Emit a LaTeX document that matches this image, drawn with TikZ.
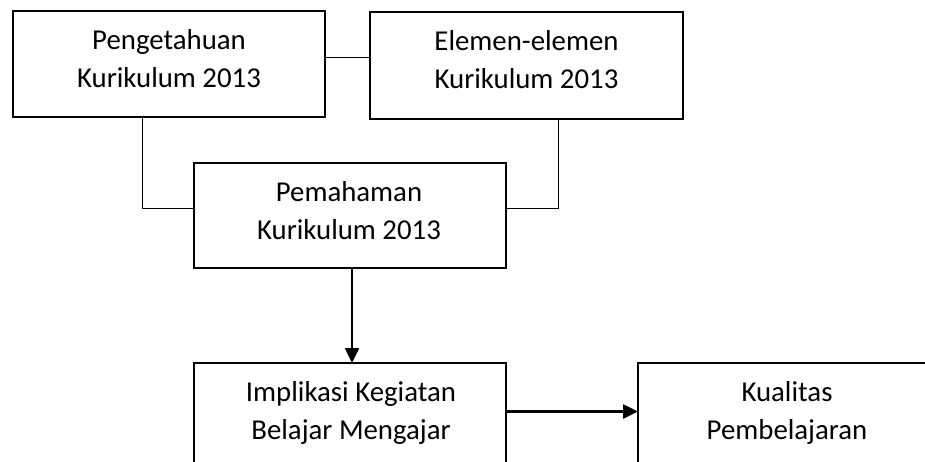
\documentclass[tikz,border=0pt]{standalone}
\usepackage{fontspec}
\setmainfont{Carlito}
\usetikzlibrary{arrows.meta}
\tikzset{
  box/.style={draw=black, line width=2pt, rectangle, inner sep=0pt, outer sep=0pt},
  label/.style={inner sep=0pt, outer sep=0pt, anchor=base, font=\fontsize{28.8}{38}\selectfont},
  thinline/.style={draw=black, line width=1pt},
  arr/.style={draw=black, line width=2.5pt, -{Triangle[length=15pt,width=14pt]}}
}
\newcommand{\twolines}[2]{\parbox[t]{300pt}{\centering #1\\#2}}
\begin{document}
\begin{tikzpicture}[x=1pt,y=-1pt]
\useasboundingbox (0,0) rectangle (925,461);
\clip (0,0) rectangle (925,461);
\node[box, minimum width=312.3pt, minimum height=106pt] (A) at (168.9,64) {};
\node[box, minimum width=313pt, minimum height=107pt] (B) at (526.5,65.5) {};
\node[box, minimum width=312pt, minimum height=105pt] (C) at (350,215.5) {};
\node[box, minimum width=312pt, minimum height=106pt] (D) at (350,416) {};
\node[box, minimum width=313pt, minimum height=106pt] (E) at (794.5,416) {};
\node[label] (tA) at (169,49.5) {\twolines{Pengetahuan}{Kurikulum 2013}};
\node[label] (tB) at (526.5,50.5) {\twolines{Elemen-elemen}{Kurikulum 2013}};
\node[label] (tC) at (349,201) {\twolines{Pemahaman}{Kurikulum 2013}};
\node[label] (tD) at (351,401.5) {\twolines{Implikasi Kegiatan}{Belajar Mengajar}};
\node[label] (tE) at (787,401.5) {\twolines{Kualitas}{Pembelajaran}};
\draw[thinline] (A.east |- 0,57) -- (B.west |- 0,57);
\draw[thinline] (A.south -| 142,0) |- (C.west |- 0,208);
\draw[thinline] (B.south -| 558,0) |- (C.east |- 0,208);
\draw[arr] (C.south -| 352,0) -- (D.north -| 352,0);
\draw[arr] (D.east |- 0,411.5) -- (E.west |- 0,411.5);
\end{tikzpicture}
\end{document}
